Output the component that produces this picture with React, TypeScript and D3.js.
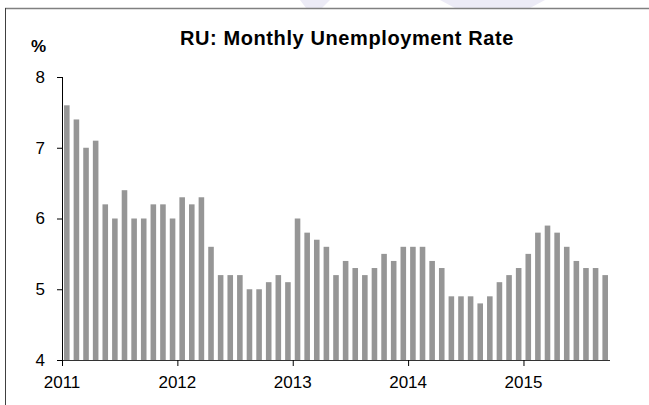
import { scaleBand, scaleLinear } from "d3";

const years = ["2011", "2012", "2013", "2014", "2015"];
const rate2011 = [7.6, 7.4, 7.0, 7.1, 6.2, 6.0, 6.4, 6.0, 6.0, 6.2, 6.2, 6.0];
const rate2012 = [6.3, 6.2, 6.3, 5.6, 5.2, 5.2, 5.2, 5.0, 5.0, 5.1, 5.2, 5.1];
const rate2013 = [6.0, 5.8, 5.7, 5.6, 5.2, 5.4, 5.3, 5.2, 5.3, 5.5, 5.4, 5.6];
const rate2014 = [5.6, 5.6, 5.4, 5.3, 4.9, 4.9, 4.9, 4.8, 4.9, 5.1, 5.2, 5.3];
const rate2015 = [5.5, 5.8, 5.9, 5.8, 5.6, 5.4, 5.3, 5.3, 5.2];
const yTicks = [4, 5, 6, 7, 8];

const rates = [...rate2011, ...rate2012, ...rate2013, ...rate2014, ...rate2015];
const months = rates.map((_, i) => `${years[Math.floor(i / 12)]}-${(i % 12) + 1}`);

const width = 649;
const height = 405;
const left = 62;
const right = 610;
const top = 77;
const bottom = 360;
const font = "'Liberation Sans', Arial, sans-serif";

const App = () => {
  const xBand = scaleBand<string>()
    .domain(months)
    .range([left, right])
    .paddingInner(0.42)
    .paddingOuter(0.21);

  // month index -> position, used for the year ticks
  const xPos = scaleLinear().domain([0, months.length]).range([left, right]);

  const yScale = scaleLinear().domain([4, 8]).range([bottom, top]);

  return (
    <svg
      width={width}
      height={height}
      style={{ position: "absolute", left: 0, top: 0, background: "#fff" }}
      fontFamily={font}
    >
      {/* faint watermark shapes above the frame */}
      <polygon points="300,0 330,0 322,8 306,8" fill="#ecebf6" />
      <polygon points="440,0 545,0 530,8 455,8" fill="#ecebf6" />

      {/* frame */}
      <line x1={5} x2={width} y1={8.5} y2={8.5} stroke="#808080" strokeWidth={1.5} />
      <line x1={5.5} x2={5.5} y1={8} y2={height} stroke="#404040" strokeWidth={1} />

      <text
        x={347}
        y={45}
        textAnchor="middle"
        fontSize={20}
        fontWeight="bold"
        letterSpacing={0.6}
        fill="#000"
      >
        RU: Monthly Unemployment Rate
      </text>
      <text x={31} y={52} fontSize={17} fontWeight="bold" fill="#000">
        %
      </text>

      {rates.map((v, i) => (
        <rect
          key={months[i]}
          x={xBand(months[i])}
          y={yScale(v)}
          width={xBand.bandwidth()}
          height={yScale(4) - yScale(v)}
          fill="#969696"
        />
      ))}

      {/* y axis */}
      <line x1={left + 0.5} x2={left + 0.5} y1={top} y2={bottom} stroke="#000" />
      {yTicks.map((t) => (
        <g key={t}>
          <line x1={left - 5} x2={left} y1={yScale(t) + 0.5} y2={yScale(t) + 0.5} stroke="#000" />
          <text x={left - 17} y={yScale(t)} dy="0.35em" textAnchor="end" fontSize={17} fill="#000">
            {t}
          </text>
        </g>
      ))}

      {/* x axis */}
      <line x1={left} x2={right} y1={bottom + 0.5} y2={bottom + 0.5} stroke="#333" />
      {years.map((y, k) => (
        <g key={y}>
          <line
            x1={xPos(k * 12) + 0.5}
            x2={xPos(k * 12) + 0.5}
            y1={bottom}
            y2={bottom + 6}
            stroke="#000"
          />
          <text x={xPos(k * 12)} y={388} textAnchor="middle" fontSize={17} fill="#000">
            {y}
          </text>
        </g>
      ))}
    </svg>
  );
};

export default App;
